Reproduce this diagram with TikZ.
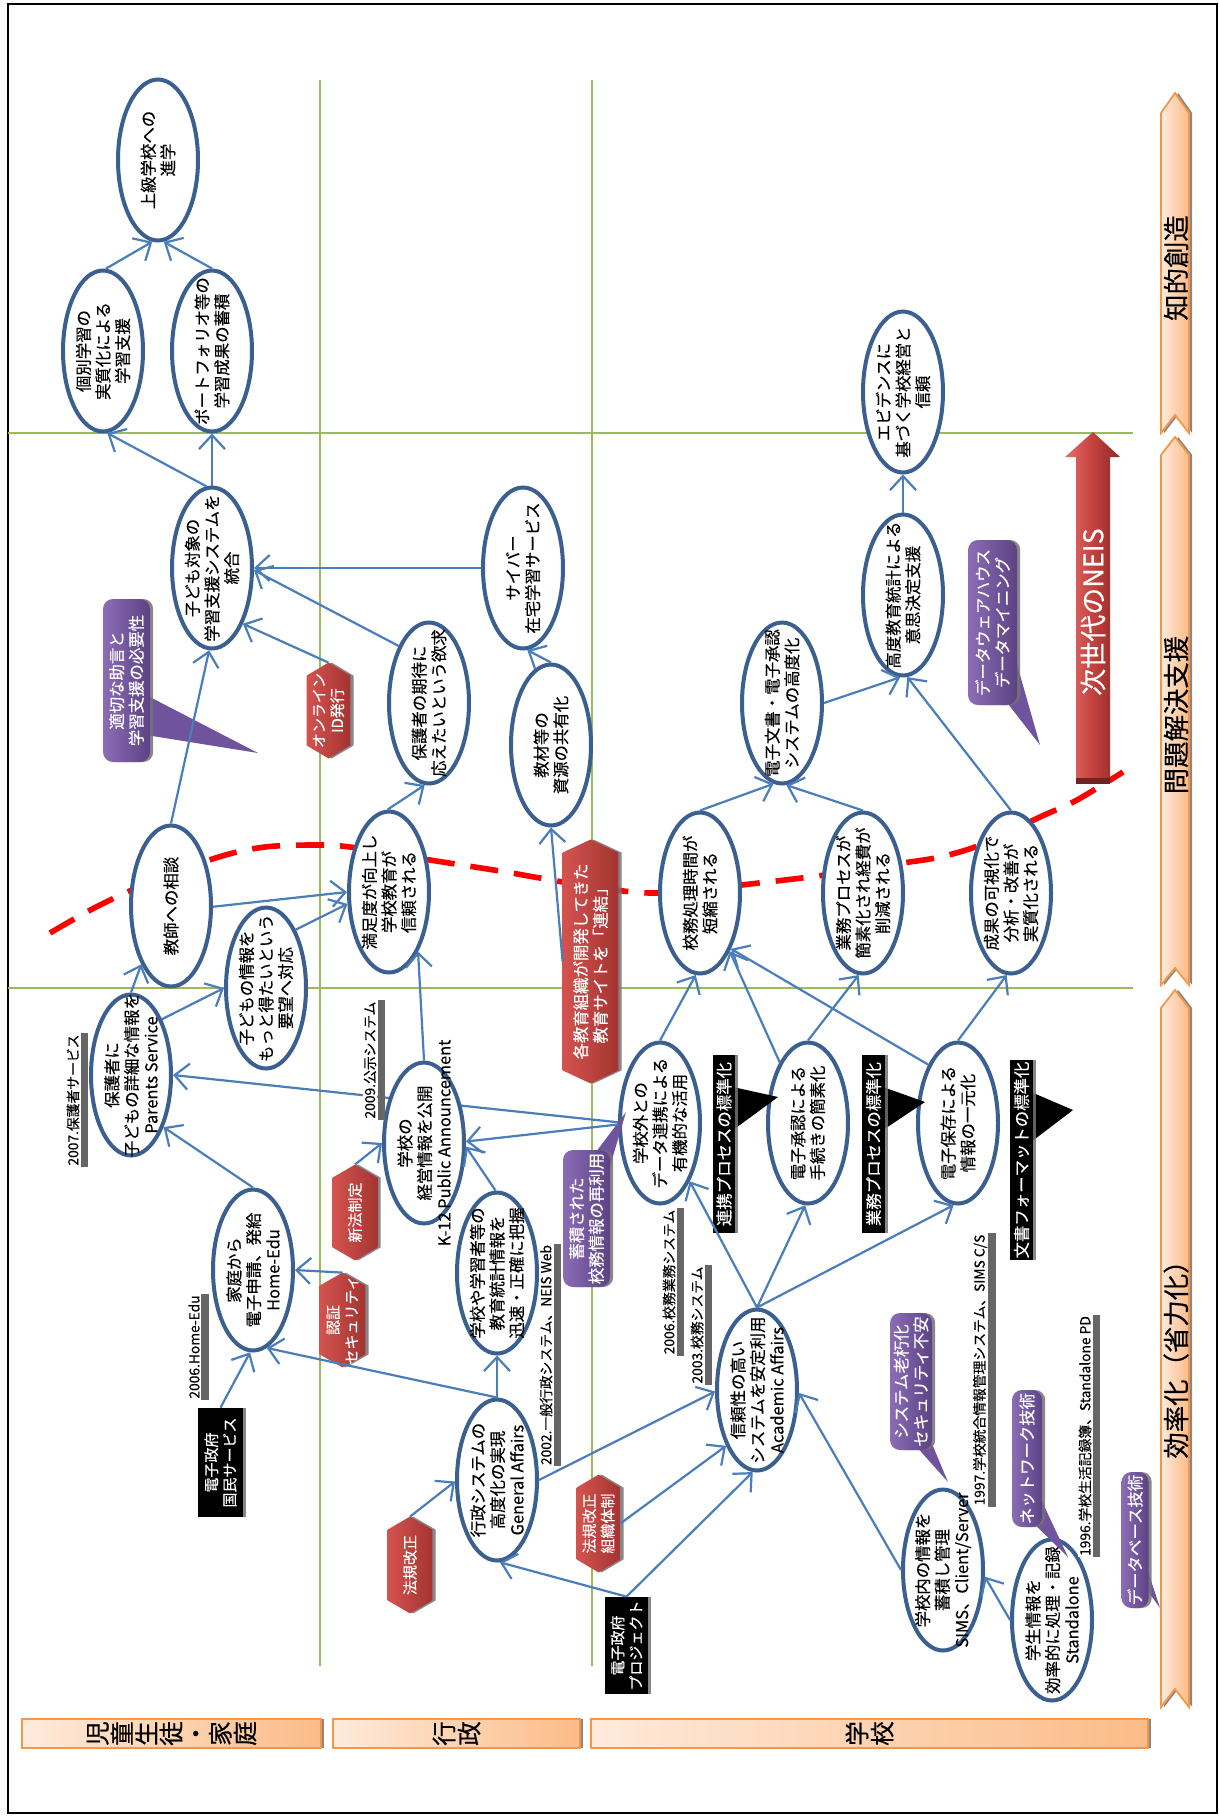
\documentclass[tikz,border=0pt]{standalone}
\usepackage{fontspec}
\setmainfont{Noto Sans CJK JP}[FakeBold=0.35]
\usetikzlibrary{arrows.meta,shapes.geometric,shadows,calc}
\pgfdeclarelayer{background}
\pgfsetlayers{background,main}
\definecolor{ellblue}{HTML}{3B5F8F}
\definecolor{arrblue}{HTML}{4A7EBB}
\definecolor{gridgreen}{HTML}{9BBB59}
\definecolor{hexL}{HTML}{D4534F}
\definecolor{hexR}{HTML}{A33431}
\definecolor{purL}{HTML}{8B6DB5}
\definecolor{purR}{HTML}{5C4285}
\definecolor{purM}{HTML}{6F539C}
\definecolor{orgL}{HTML}{FEEADB}
\definecolor{orgR}{HTML}{FBBC88}
\definecolor{orgB}{HTML}{F79646}
\definecolor{neisL}{HTML}{E46E6B}
\definecolor{neisM}{HTML}{C4413E}
\definecolor{neisR}{HTML}{8C2A28}
\definecolor{dashred}{HTML}{FF0000}
\newcommand\hexpath[2]{\path[hexfill] (#1.north) -- ([yshift=-#2]#1.north east) -- ([yshift=#2]#1.south east) -- (#1.south) -- ([yshift=#2]#1.south west) -- ([yshift=-#2]#1.north west) -- cycle;}
\newcommand\lblstripe[1]{\fill[black!60] (#1.south west) rectangle ([xshift=3.8pt]#1.south east);}
\begin{document}
\begin{tikzpicture}[x=0.5pt,y=-0.5pt,
 ell/.style={ellipse,draw=ellblue,line width=2pt,fill=white,minimum width=40pt,minimum height=80.5pt,inner sep=0pt},
 tx/.style={rotate=90,align=center,inner sep=0pt,font=\fontsize{8.2}{9.8}\selectfont},
 wtx/.style={tx,text=white},
 htx/.style={tx,text=white,font=\fontsize{7.5}{9.2}\selectfont},
 arr/.style={draw=arrblue,line width=1.1pt,-{Straight Barb[length=7pt,width=13pt,line width=1.1pt]}},
 shd/.style={drop shadow={shadow xshift=1.6pt,shadow yshift=0pt,fill=black!55,opacity=0.85}},
 hexnode/.style={rectangle,draw=none,inner sep=0pt},
 hexfill/.style={left color=hexL,right color=hexR,shd},
 pbody/.style={rectangle,rounded corners=5pt,left color=purL,right color=purR,inner sep=0pt,shd},
 ptr/.style={fill=purM},
 kbox/.style={rectangle,fill=black,inner sep=0pt,shd},
 ylab/.style={rotate=90,fill=white,inner sep=0.5pt,font=\fontsize{6.9}{8}\selectfont},
 chev/.style={left color=orgL,right color=orgR,draw=orgB,line width=0.9pt,shd},
 rowbox/.style={rectangle,left color=orgL,right color=orgR,draw=orgB,line width=0.9pt,inner sep=0pt,minimum height=14.5pt,shd},
 big/.style={rotate=90,align=center,inner sep=0pt,font=\fontsize{13.2}{13.4}\selectfont}
]
\useasboundingbox (0,0) rectangle (1219,1816);

% ---------- ellipses ----------
\node[ell] (E1) at (158,160) {};
\node[tx] (E1t) at (E1) {上級学校への\\進学};
\node[ell] (E2) at (103,351) {};
\node[tx] (E2t) at (E2) {個別学習の\\実質化による\\学習支援};
\node[ell] (E3) at (212,351) {};
\node[tx] (E3t) at (E3) {ポートフォリオ等の\\学習成果の蓄積};
\node[ell] (E4) at (212,568) {};
\node[tx] (E4t) at (E4) {子ども対象の\\学習支援システムを\\統合};
\node[ell] (E5) at (171,906) {};
\node[tx] (E5t) at (E5) {教師への相談};
\node[ell] (E6) at (131,1075) {};
\node[tx] (E6t) at (E6) {保護者に\\子どもの詳細な情報を\\Parents Service};
\node[ell] (E7) at (266,988) {};
\node[tx] (E7t) at (E7) {子どもの情報を\\もっと得たいという\\要望へ対応};
\node[ell] (E8) at (253,1270) {};
\node[tx] (E8t) at (E8) {家庭から\\電子申請、発給\\Home-Edu};
\node[ell] (E9) at (389,892) {};
\node[tx] (E9t) at (E9) {満足度が向上し\\学校教育が\\信頼される};
\node[ell] (E10) at (429,703) {};
\node[tx] (E10t) at (E10) {保護者の期待に\\応えたいという欲求};
\node[ell] (E11) at (523,568) {};
\node[tx] (E11t) at (E11) {サイバー\\在宅学習サービス};
\node[ell] (E12) at (551,745) {};
\node[tx] (E12t) at (E12) {教材等の\\資源の共有化};
\node[ell] (E13) at (782,703) {};
\node[tx] (E13t) at (E13) {電子文書・電子承認\\システムの高度化};
\node[ell] (E14) at (700,893) {};
\node[tx] (E14t) at (E14) {校務処理時間が\\短縮される};
\node[ell] (E15) at (903,595) {};
\node[tx] (E15t) at (E15) {高度教育統計による\\意思決定支援};
\node[ell] (E16) at (903,392) {};
\node[tx] (E16t) at (E16) {エビデンスに\\基づく学校経営と\\信頼};
\node[ell] (E17) at (863,893) {};
\node[tx] (E17t) at (E17) {業務プロセスが\\簡素化され経費が\\削減される};
\node[ell] (E18) at (1011,893) {};
\node[tx] (E18t) at (E18) {成果の可視化で\\分析・改善が\\実質化される};
\node[ell] (E19) at (424,1143) {};
\node[tx] (E19t) at (E19) {学校の\\経営情報を公開\\K-12 Public Announcement};
\node[ell] (E20) at (497,1273) {};
\node[tx] (E20t) at (E20) {学校や学習者等の\\教育統計情報を\\迅速・正確に把握};
\node[ell] (E21) at (660,1123) {};
\node[tx] (E21t) at (E21) {学校外との\\データ連携による\\有機的な活用};
\node[ell] (E22) at (808,1123) {};
\node[tx] (E22t) at (E22) {電子承認による\\手続きの簡素化};
\node[ell] (E23) at (958,1123) {};
\node[tx] (E23t) at (E23) {電子保存による\\情報の一元化};
\node[ell] (E24) at (497,1480) {};
\node[tx] (E24t) at (E24) {行政システムの\\高度化の実現\\General Affairs};
\node[ell] (E25) at (757,1390) {};
\node[tx] (E25t) at (E25) {信頼性の高い\\システムを安定利用\\Academic Affairs};
\node[ell] (E26) at (943,1570) {};
\node[tx] (E26t) at (E26) {学校内の情報を\\蓄積し管理\\SIMS、Client/Server};
\node[ell] (E27) at (1052,1620) {};
\node[tx] (E27t) at (E27) {学生情報を\\効率的に処理・記録\\Standalone};

% ---------- red hexagons ----------
\node[hexnode,minimum width=21.5pt,minimum height=47.5pt] (H1) at (328.5,710.5) {};
\hexpath{H1}{6.5pt}
\node[htx] (H1t) at (H1) {オンライン\\ID発行};
\node[hexnode,minimum width=22pt,minimum height=47.5pt] (H2) at (355,1212.5) {};
\hexpath{H2}{6.5pt}
\node[htx] (H2t) at (H2) {新法制定};
\node[hexnode,minimum width=22.5pt,minimum height=47pt] (H3) at (342.5,1320) {};
\hexpath{H3}{6.5pt}
\node[htx] (H3t) at (H3) {認証\\セキュリティ};
\node[hexnode,minimum width=22pt,minimum height=48pt] (H4) at (410,1565) {};
\hexpath{H4}{6.5pt}
\node[htx] (H4t) at (H4) {法規改正};
\node[hexnode,minimum width=21.5pt,minimum height=48.5pt] (H5) at (598.5,1523.5) {};
\hexpath{H5}{6.5pt}
\node[htx] (H5t) at (H5) {法規改正\\組織体制};
\node[hexnode,minimum width=27.5pt,minimum height=121.5pt] (H6) at (590.5,961.5) {};
\hexpath{H6}{6.5pt}
\node[wtx] (H6t) at (H6) {各教育組織が開発してきた\\教育サイトを「連結」};

% ---------- purple callouts ----------
\fill[ptr] (146,695) -- (258,753) -- (146,735) -- cycle;
\node[pbody,minimum width=23.5pt,minimum height=81.5pt] (P1) at (126.5,680.5) {};
\node[wtx] (P1t) at (P1) {適切な助言と\\学習支援の必要性};
\fill[ptr] (1010,640) -- (1040,745) -- (1005,700) -- cycle;
\node[pbody,minimum width=24.5pt,minimum height=82.5pt] (P2) at (992.5,622.5) {};
\node[wtx] (P2t) at (P2) {データウェアハウス\\データマイニング};
\fill[ptr] (590,1160) -- (626,1112) -- (606,1180) -- cycle;
\node[pbody,minimum width=23.5pt,minimum height=68.5pt] (P3) at (586.5,1218.5) {};
\node[wtx] (P3t) at (P3) {蓄積された\\校務情報の再利用};
\fill[ptr] (922,1420) -- (948,1482) -- (915,1445) -- cycle;
\node[pbody,minimum width=21pt,minimum height=68.5pt] (P4) at (911,1381.5) {};
\node[wtx] (P4t) at (P4) {システム老朽化\\セキュリティ不安};
\fill[ptr] (1032,1480) -- (1068,1557) -- (1025,1515) -- cycle;
\node[pbody,minimum width=15pt,minimum height=68.5pt] (P5) at (1027,1458.5) {};
\node[wtx] (P5t) at (P5) {ネットワーク技術};
\fill[ptr] (1142,1553) -- (1160,1608) -- (1142,1583) -- cycle;
\node[pbody,minimum width=13.5pt,minimum height=68pt] (P6) at (1135,1540) {};
\node[wtx] (P6t) at (P6) {データベース技術};

% ---------- black boxes ----------
\fill (733,1087) -- (778,1097) -- (733,1130) -- cycle;
\node[kbox,minimum width=11pt,minimum height=89pt] (B1) at (724,1144) {};
\node[wtx] (B1t) at (B1) {連携プロセスの標準化};
\fill (883,1087) -- (925,1102) -- (883,1130) -- cycle;
\node[kbox,minimum width=11.5pt,minimum height=89pt] (B2) at (873.5,1144) {};
\node[wtx] (B2t) at (B2) {業務プロセスの標準化};
\fill (1031,1092) -- (1073,1110) -- (1031,1142) -- cycle;
\node[kbox,minimum width=11.5pt,minimum height=100pt] (B3) at (1021.5,1160) {};
\node[wtx] (B3t) at (B3) {文書フォーマットの標準化};
\node[kbox,minimum width=22.5pt,minimum height=54.5pt] (K1) at (220.5,1462.5) {};
\node[htx] (K1t) at (K1) {電子政府\\国民サービス};
\node[kbox,minimum width=21.5pt,minimum height=48.5pt] (K2) at (626.5,1645.5) {};
\node[htx] (K2t) at (K2) {電子政府\\プロジェクト};

% ---------- year labels ----------
\node[ylab] (Y1) at (73,1100) {2007.保護者サービス}; \lblstripe{Y1}
\node[ylab] (Y2) at (370,1060) {2009.公示システム}; \lblstripe{Y2}
\node[ylab] (Y3) at (194,1347) {2006.Home-Edu}; \lblstripe{Y3}
\node[ylab] (Y4) at (546,1355) {2002.一般行政システム、NEIS Web}; \lblstripe{Y4}
\node[ylab] (Y5) at (669,1282) {2006.校務業務システム}; \lblstripe{Y5}
\node[ylab] (Y6) at (697,1325) {2003.校務システム}; \lblstripe{Y6}
\node[ylab] (Y7) at (980,1370) {1997.学校統合情報管理システム、SIMS C/S}; \lblstripe{Y7}
\node[ylab] (Y8) at (1085,1436) {1996.学校生活記録簿、Standalone PD}; \lblstripe{Y8}

% ---------- chevrons ----------
\path[chev] (1161,113) -- (1175,93) -- (1189,113) -- (1189,433) -- (1175,415) -- (1161,433) -- cycle;
\node[big] (C1t) at (1176,268) {知的創造};
\path[chev] (1161,455) -- (1175,437) -- (1189,455) -- (1189,985) -- (1175,968) -- (1161,985) -- cycle;
\node[big] (C2t) at (1176,715) {問題解決支援};
\path[chev] (1161,1008) -- (1175,990) -- (1189,1008) -- (1189,1707) -- (1175,1689) -- (1161,1707) -- cycle;
\node[big] (C3t) at (1176,1353) {効率化（省力化）};

% ---------- row boxes ----------
\node[rowbox,minimum width=149.5pt] (R1) at (171.5,1733.5) {};
\node[tx,font=\fontsize{12.3}{12.3}\selectfont] (R1t) at (R1) {児\\童\\生\\徒\\・\\家\\庭};
\node[rowbox,minimum width=123.5pt] (R2) at (456.5,1733.5) {};
\node[tx,font=\fontsize{12.3}{12.6}\selectfont] (R2t) at (R2) {行\\政};
\node[rowbox,minimum width=278.5pt] (R3) at (869.5,1733.5) {};
\node[tx,font=\fontsize{12.3}{12.6}\selectfont] (R3t) at (R3) {学\\校};

% ---------- NEIS arrow ----------
\path[left color=neisL,right color=neisR,middle color=neisM] (1076,782) -- (1076,457) -- (1065,457) -- (1093,432) -- (1120,457) -- (1110,457) -- (1110,782) -- cycle;
\fill[neisR!80!black] (1076,778) rectangle (1110,784);
\node[big,text=white,font=\fontsize{13.5}{14}\selectfont] (NEISt) at (1093,612) {次世代のNEIS};

% ---------- connectors ----------
\draw[arr] (E2.88) -- (E1.266);
\draw[arr] (E3.north) -- (E1.274);
\draw[arr] (E4.94) -- (E2.273);
\draw[arr] (E4.north) -- (E3.south);
\draw[arr] (E5.north) -- (E4.268);
\draw[arr] (E11.west) -- (E4.east);
\draw[arr] (E10.118) -- (E4.-3);
\draw[arr] (H1.north) -- (E4.-61);
\draw[arr] (E6.north) -- (E5.243);
\draw[arr] (E6.61) -- (E7.west);
\draw[arr] (E5.-1) -- (E9.west);
\draw[arr] (E7.63) -- (E9.196);
\draw[arr] (E9.91) -- (E10.267);
\draw[arr] (E12.north) -- (E11.273);
\draw[arr] (H6.west) -- (E12.south);
\draw[arr] (E14.north) -- (E13.264);
\draw[arr] (E17.north) -- (E13.273);
\draw[arr] (E13.east) -- (E15.268);
\draw[arr] (E18.north) -- (E15.273);
\draw[arr] (E15.north) -- (E16.south);
\draw[arr] (E19.north) -- (E9.-64);
\draw[arr] (E21.182) -- (E19.2);
\draw[arr] (E20.91) -- (E19.-5);
\draw[arr] (E24.north) -- (E20.south);
\draw[arr] (E24.north) -- (E8.280);
\draw[arr] (H3.north) -- (E8.east);
\draw[arr] (K1.north) -- (E8.268);
\draw[arr] (E8.north) -- (E6.-58);
\draw[arr] (H2.north) -- (E19.west);
\draw[arr] (H4.north) -- (E24.182);
\draw[arr] (E24.east) -- (E25.182);
\draw[arr] (H5.east) -- (E25.241);
\draw[arr] (K2.north) -- (E25.267);
\draw[arr] (K2.north) -- (E24.272);
\draw[arr] (E25.north) -- (E21.-63);
\draw[arr] (E25.north) -- (E22.268);
\draw[arr] (E25.north) -- (E23.267);
\draw[arr] (E26.west) -- (E25.-4);
\draw[arr] (E27.west) -- (E26.-9);
\draw[arr] (E21.north) -- (E14.267);
\draw[arr] (E22.115) -- (E14.-63);
\draw[arr] (E23.117) -- (E14.-61);
\draw[arr] (E22.north) -- (E17.267);
\draw[arr] (E23.north) -- (E18.267);

% ---------- background ----------
\begin{pgfonlayer}{background}
\fill[white] (0,0) rectangle (1219,1816);
\draw[line width=1pt] (8,4) rectangle (1217,1813);
\draw[gridgreen,line width=0.85pt] (8,433) -- (1133,433);
\draw[gridgreen,line width=0.85pt] (8,988) -- (1133,988);
\draw[gridgreen,line width=0.85pt] (320,80) -- (320,1666);
\draw[gridgreen,line width=0.85pt] (592,80) -- (592,1666);
\draw[dashred,line width=2.8pt,dash pattern=on 14pt off 8pt] plot[smooth,tension=0.55] coordinates {(50,933) (100,905) (160,878) (222,856) (265,847) (313,845) (350,847) (430,860) (500,871) (540,878) (600,888) (650,893) (700,890) (750,884) (810,877) (860,870) (903,863) (940,857) (980,845) (1040,817) (1077,800) (1123,772)};
\draw[arr] (E21.179) -- (E6.east);
\end{pgfonlayer}
\end{tikzpicture}
\end{document}
